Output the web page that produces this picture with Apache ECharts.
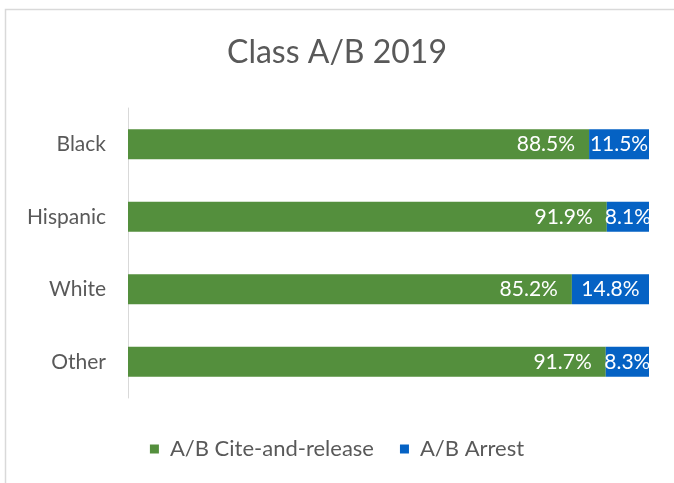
<!DOCTYPE html>
<html><head><meta charset="utf-8">
<script src="https://cdn.jsdelivr.net/npm/echarts@6/dist/echarts.min.js"></script>
<style>html,body{margin:0;padding:0;background:#fff;}#c{width:674px;height:483px;}</style>
</head><body><div id="c"></div>
<script>
const categories = ["Black", "Hispanic", "White", "Other"];
const citeRelease = [88.5, 91.9, 85.2, 91.7];
const arrest = [11.5, 8.1, 14.8, 8.3];
const seriesNames = ["A/B Cite-and-release", "A/B Arrest"];
const titleText = "Class A/B 2019";

const FONT = "Lato";
const chart = echarts.init(document.getElementById('c'), null, {renderer: 'canvas'});
chart.setOption({
  animation: false,
  textStyle: {fontFamily: FONT},
  graphic: [{type: 'rect', shape: {x: 5.5, y: 9.5, width: 720, height: 520}, style: {fill: null, stroke: '#d9d9d9', lineWidth: 1.5}, silent: true, z: -1}],
  title: {text: titleText, left: 'center', top: 32, textStyle: {fontFamily: FONT, fontSize: 32, fontWeight: 'normal', color: '#595959'}},
  legend: {bottom: 18, left: 'center', itemWidth: 9, itemHeight: 9, itemGap: 26, icon: 'rect',
    textStyle: {fontFamily: FONT, fontSize: 22, color: '#595959', padding: [0, 0, 0, 6]}, data: seriesNames},
  grid: {left: 128, right: 25, top: 108, bottom: 85},
  xAxis: {type: 'value', min: 0, max: 100, show: false},
  yAxis: {type: 'category', data: categories, inverse: true,
    axisLine: {show: true, lineStyle: {color: '#d9d9d9', width: 1}},
    axisTick: {show: false},
    axisLabel: {fontFamily: FONT, fontSize: 21, color: '#595959', margin: 22}},
  series: [
    {name: seriesNames[0], type: 'bar', stack: 'a', data: citeRelease, barWidth: 30,
      itemStyle: {color: '#548f3d'},
      label: {show: true, position: 'insideRight', distance: 14, color: '#fff', fontFamily: FONT, fontSize: 21, formatter: p => p.value.toFixed(1) + '%'}},
    {name: seriesNames[1], type: 'bar', stack: 'a', data: arrest, barWidth: 30,
      itemStyle: {color: '#0562c4'},
      label: {show: true, position: 'inside', color: '#fff', fontFamily: FONT, fontSize: 21, formatter: p => p.value.toFixed(1) + '%'}}
  ]
});
</script></body></html>
